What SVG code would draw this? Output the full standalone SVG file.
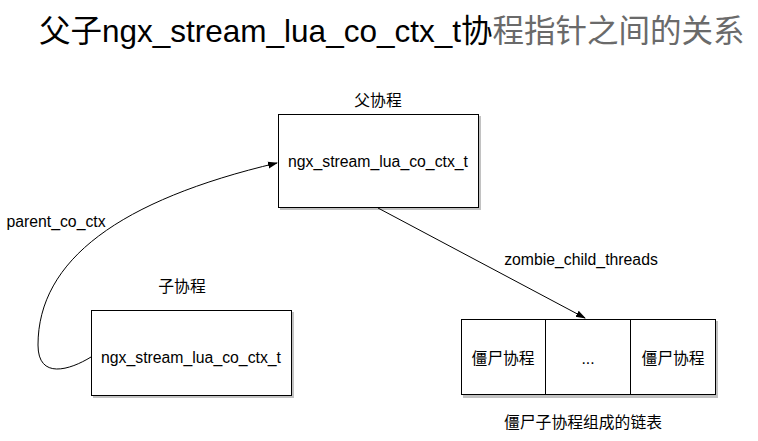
<svg xmlns="http://www.w3.org/2000/svg" width="758" height="441" viewBox="0 0 758 441">
<style>
.t{font-family:"Liberation Sans","Noto Sans CJK SC",Arial,sans-serif;font-size:15.8px;fill:#000;text-anchor:middle}
.box{fill:#fff;stroke:#000;stroke-width:1}
.sh{fill:#999;opacity:0.6}
.ln{fill:none;stroke:#000;stroke-width:1}
</style>
<defs>
<marker id="ah" viewBox="0 0 10 10" refX="9" refY="5" markerWidth="10" markerHeight="10" markerUnits="userSpaceOnUse" orient="auto">
<path d="M0,1.5 L10,5 L0,8.5 Z" fill="#000"/>
</marker>
</defs>
<rect width="758" height="441" fill="#fff"/>
<text x="39" y="42" font-family="'Liberation Sans','Noto Sans CJK SC',Arial,sans-serif" font-size="31.5" fill="#000">父子ngx_stream_lua_co_ctx_t协<tspan fill="#6a6a6a">程指针之间的关系</tspan></text>

<g id="parent">
<text class="t" x="378" y="106">父协程</text>
<rect class="sh" x="280" y="116" width="201" height="94"/>
<rect class="box" x="278.5" y="114.5" width="200" height="93"/>
<text class="t" x="378" y="167">ngx_stream_lua_co_ctx_t</text>
</g>

<g id="child">
<text class="t" x="182" y="292">子协程</text>
<rect class="sh" x="93" y="312" width="201" height="86"/>
<rect class="box" x="91.5" y="310.5" width="200" height="85"/>
<text class="t" x="191" y="363">ngx_stream_lua_co_ctx_t</text>
</g>

<g id="list">
<rect class="sh" x="463" y="321" width="255" height="77"/>
<rect class="box" x="461.5" y="319.5" width="254" height="75"/>
<line class="ln" x1="545.5" y1="319.5" x2="545.5" y2="394.5"/>
<line class="ln" x1="630.5" y1="319.5" x2="630.5" y2="394.5"/>
<text class="t" x="503" y="364">僵尸协程</text>
<text class="t" x="588" y="364">...</text>
<text class="t" x="673" y="364">僵尸协程</text>
<text class="t" x="583" y="428">僵尸子协程组成的链表</text>
</g>

<g id="connectors">
<path class="ln" d="M91 357 C70 370 38 380 38 345 C38 260 120 200 277 163" marker-end="url(#ah)"/>
<text class="t" x="56" y="227">parent_co_ctx</text>
<line class="ln" x1="378" y1="208" x2="585" y2="318" marker-end="url(#ah)"/>
<text class="t" x="581" y="265">zombie_child_threads</text>
</g>
</svg>
